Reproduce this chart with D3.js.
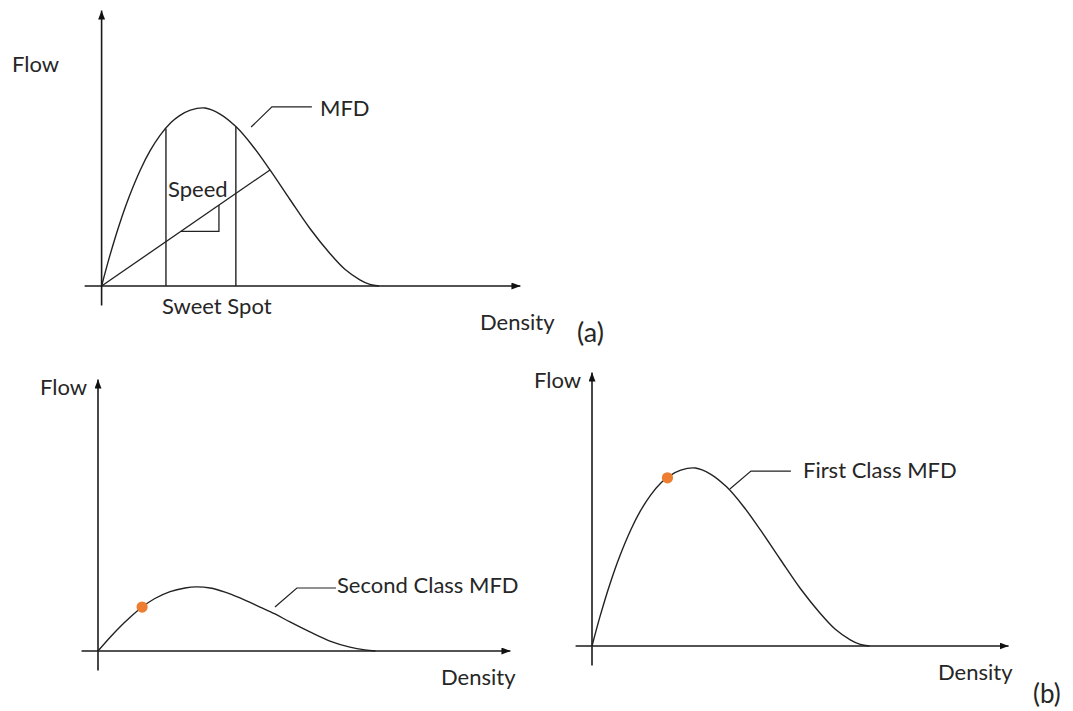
<!DOCTYPE html>
<html>
<head>
<meta charset="utf-8">
<script src="https://cdn.jsdelivr.net/npm/d3@7"></script>
<style>
  html, body { margin: 0; background: #fff; }
  svg { display: block; }
  text { font-family: Lato, "Open Sans", sans-serif; fill: #262626; }
</style>
</head>
<body>
<svg id="chart" width="1073" height="711"></svg>
<script>
// Macroscopic fundamental diagram, density (jam = 100) vs flow (capacity = 100)
const mfdDensity = [0, 3, 6.5, 10, 14, 17.5, 21, 25, 28, 32, 37.3, 42.7, 48.5, 54.6, 60.7, 67.9, 75.1, 82.3, 87.7, 93.1, 96.7, 100];
const mfdFlow    = [0, 17.2, 35, 50.4, 65.3, 76, 84.5, 91.8, 95.6, 98.8, 100, 96.6, 89.4, 78.4, 65.2, 48.6, 32.3, 18.3, 9.4, 3.5, 0.9, 0];

// Sweet-spot density band and the speed ray (origin to a point on the curve)
const sweetSpot = [23.2, 48.4];
const speedPoint = [60.7, 65.2];
const speedTriangle = [28.6, 42.3];

// Second class MFD with its operating point
const secondDensity = [0, 4.3, 7.9, 11.5, 15.9, 20.5, 26, 31.4, 35.3, 40.4, 45.8, 51.2, 58.4, 63.8, 69.2, 76.4, 83.6, 90.8, 96.2, 100];
const secondFlow    = [0, 7.6, 13.5, 18.8, 24.7, 29.5, 33.4, 35.4, 36, 35.4, 33.1, 29.8, 24.7, 20.8, 16.3, 10.7, 5.6, 2.2, 0.6, 0];
const secondPoint = [15.9, 24.7];

// First class MFD with its operating point
const firstDensity = [0, 3, 6.5, 10, 14, 17.5, 21, 25, 28, 32, 37.3, 42.7, 48.5, 54.6, 60.7, 67.9, 75.1, 82.3, 87.7, 93.1, 96.7, 100];
const firstFlow    = [0, 17.2, 35, 50.4, 65.3, 76, 84.5, 91.8, 95.6, 98.8, 100, 96.6, 89.4, 78.4, 65.2, 48.6, 32.3, 18.3, 9.4, 3.5, 0.9, 0];
const firstPoint = [27.2, 94.5];

// Leader lines for the curve names: [density, flow] vertices
const mfdLeader    = [[53.9, 89.3], [61.4, 100.6], [75.8, 100.6]];
const secondLeader = [[63.8, 24.7], [71.7, 35.4], [85.8, 35.4]];
const firstLeader  = [[49.7, 88.2], [57.3, 98.3], [71.7, 98.3]];

const svg = d3.select("#chart");
const INK = "#222";

const defs = svg.append("defs");
defs.append("marker")
  .attr("id", "arrow")
  .attr("viewBox", "0 0 10 10")
  .attr("preserveAspectRatio", "none")
  .attr("refX", 10).attr("refY", 5)
  .attr("markerWidth", 9).attr("markerHeight", 7)
  .attr("markerUnits", "userSpaceOnUse")
  .attr("orient", "auto")
  .append("path").attr("d", "M0,0L10,5L0,10Z").attr("fill", "#111");

function panel(cfg) {
  const x = d3.scaleLinear().domain([0, 100]).range([cfg.ox, cfg.ox + 277.4]);
  const y = d3.scaleLinear().domain([0, 100]).range([cfg.oy, cfg.oy - 178]);
  const g = svg.append("g");

  // axes: bare domain lines ending in arrowheads
  const xa = d3.scaleLinear().domain(cfg.xExtent).range(cfg.xExtent.map(x));
  const ya = d3.scaleLinear().domain(cfg.yExtent).range(cfg.yExtent.map(y));
  const gx = g.append("g").attr("transform", `translate(0,${y(0) - 0.5})`)
    .call(d3.axisBottom(xa).tickValues([]).tickSizeOuter(0));
  const gy = g.append("g").attr("transform", `translate(${x(0) - 0.5},0)`)
    .call(d3.axisLeft(ya).tickValues([]).tickSizeOuter(0));
  [gx, gy].forEach(a => a.select(".domain")
    .attr("stroke", "#1a1a1a").attr("stroke-width", 1.6)
    .attr("marker-end", "url(#arrow)"));

  const line = d3.line().x(d => x(d[0])).y(d => y(d[1])).curve(d3.curveCatmullRom.alpha(0.5));
  const pts = cfg.density.map((d, i) => [d, cfg.flow[i]]);
  g.append("path").datum(pts).attr("d", line)
    .attr("fill", "none").attr("stroke", INK).attr("stroke-width", 1.4);

  if (cfg.leader) {
    g.append("path").datum(cfg.leader).attr("d", d3.line().x(d => x(d[0])).y(d => y(d[1])))
      .attr("fill", "none").attr("stroke", INK).attr("stroke-width", 1.2);
  }
  if (cfg.point) {
    g.append("circle").attr("cx", x(cfg.point[0])).attr("cy", y(cfg.point[1]))
      .attr("r", 5.6).attr("fill", "#ED7D31");
  }
  const text = (t, px, py) => g.append("text")
    .attr("x", px).attr("y", py).attr("font-size", 22).text(t);
  cfg.labels.forEach(l => text(l[0], l[1], l[2]));
  return { g, x, y, text };
}

// (a) MFD with sweet spot and speed
const a = panel({
  ox: 101.6, oy: 286,
  xExtent: [-6.3, 150.8], yExtent: [-10.7, 155],
  density: mfdDensity, flow: mfdFlow, leader: mfdLeader,
  labels: [["Flow", 12, 72], ["Density", 480, 330], ["MFD", 320, 116]]
});
const flowAt = d => d3.scaleLinear().domain(mfdDensity).range(mfdFlow)(d);
sweetSpot.forEach(d => {
  a.g.append("line")
    .attr("x1", a.x(d)).attr("x2", a.x(d))
    .attr("y1", a.y(0)).attr("y2", a.y(flowAt(d)))
    .attr("stroke", INK).attr("stroke-width", 1.4);
});
a.g.append("line")
  .attr("x1", a.x(0)).attr("y1", a.y(0))
  .attr("x2", a.x(speedPoint[0])).attr("y2", a.y(speedPoint[1]))
  .attr("stroke", INK).attr("stroke-width", 1.3);
const slope = speedPoint[1] / speedPoint[0];
a.g.append("path")
  .attr("d", `M${a.x(speedTriangle[0])},${a.y(speedTriangle[0] * slope)}` +
             `H${a.x(speedTriangle[1])}V${a.y(speedTriangle[1] * slope)}`)
  .attr("fill", "none").attr("stroke", INK).attr("stroke-width", 1.3);
a.text("Speed", 168, 197);
a.text("Sweet Spot", 162, 314);
svg.append("text").attr("x", 577).attr("y", 342)
  .attr("font-family", "'Liberation Sans', Arial, sans-serif")
  .attr("font-size", 27).attr("fill", "#000").text("(a)");

// (b) second class and first class MFDs
panel({
  ox: 98, oy: 651,
  xExtent: [-6.1, 148.5], yExtent: [-10.7, 152.8],
  density: secondDensity, flow: secondFlow, leader: secondLeader, point: secondPoint,
  labels: [["Flow", 40, 395], ["Density", 441, 685], ["Second Class MFD", 337, 593]]
});
panel({
  ox: 592, oy: 646,
  xExtent: [-6.1, 150], yExtent: [-10.7, 153.9],
  density: firstDensity, flow: firstFlow, leader: firstLeader, point: firstPoint,
  labels: [["Flow", 534, 388], ["Density", 938, 680], ["First Class MFD", 803, 478]]
});
svg.append("text").attr("x", 1033).attr("y", 703)
  .attr("font-family", "'Liberation Serif', 'Times New Roman', serif")
  .attr("font-size", 26).attr("fill", "#000").text("(b)");
</script>
</body>
</html>
